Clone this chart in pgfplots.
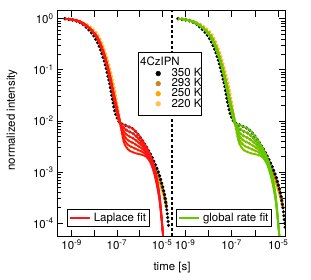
\documentclass[border=0pt]{standalone}
\usepackage{pgfplots}
\pgfplotsset{compat=1.18}
\usepackage{pgfplotstable}
\usepackage{fontspec}
\setmainfont{TeX Gyre Heros}
\newcommand\lblfont{\fontsize{11.5}{13}\selectfont}

\definecolor{c350}{RGB}{0,0,0}
\definecolor{c320}{RGB}{110,72,10}
\definecolor{c293}{RGB}{200,134,20}
\definecolor{c270}{RGB}{235,150,10}
\definecolor{c250}{RGB}{255,165,0}
\definecolor{c220}{RGB}{255,195,80}
\definecolor{fitred}{RGB}{255,20,20}
\definecolor{fitgreen}{RGB}{100,200,0}

% t [s], normalized intensity, fit
\pgfplotstableread{
t I fit
5.012e-10 1 1
7.943e-10 0.966 0.966
1.259e-9 0.933 0.933
1.995e-9 0.871 0.871
3.162e-9 0.776 0.776
5.012e-9 0.638 0.686
7.943e-9 0.515 0.5617
1.259e-8 0.3715 0.4290
1.995e-8 0.2296 0.2769
3.162e-8 0.1180 0.1486
5.012e-8 0.04753 0.06428
7.943e-8 0.01581 0.02332
1.259e-7 9.55e-3 9.55e-3
1.995e-7 8.511e-3 8.511e-3
3.162e-7 7.762e-3 7.762e-3
5.012e-7 7.079e-3 7.079e-3
7.943e-7 5.754e-3 5.754e-3
1.259e-6 4.365e-3 4.365e-3
1.995e-6 3.162e-3 3.162e-3
3.162e-6 2.188e-3 2.042e-3
5.012e-6 1.413e-3 1.072e-3
7.943e-6 8.318e-4 3.311e-4
1.259e-5 3.802e-4 3.0e-5
1.585e-5 1.995e-4 1e-5
1.778e-5 1.259e-4 1e-5
1.995e-5 7.943e-5 1e-5
}\dA
\pgfplotstableread{
t I fit
5.012e-10 1 1
7.943e-10 0.969 0.969
1.259e-9 0.938 0.938
1.995e-9 0.879 0.879
3.162e-9 0.787 0.787
5.012e-9 0.662 0.691
7.943e-9 0.538 0.5672
1.259e-8 0.3999 0.4360
1.995e-8 0.2527 0.2827
3.162e-8 0.1328 0.1524
5.012e-8 0.05548 0.06650
7.943e-8 0.01929 0.02436
1.259e-7 0.0100 0.0100
1.995e-7 7.311e-3 7.311e-3
3.162e-7 6.310e-3 6.310e-3
5.012e-7 5.728e-3 5.728e-3
7.943e-7 4.786e-3 4.786e-3
1.259e-6 3.802e-3 3.802e-3
1.995e-6 2.884e-3 2.884e-3
3.162e-6 2.051e-3 1.914e-3
5.012e-6 1.318e-3 1.000e-3
7.943e-6 7.834e-4 3.119e-4
1.259e-5 3.664e-4 3.0e-5
1.585e-5 2.014e-4 1e-5
}\dB
\pgfplotstableread{
t I fit
5.012e-10 1 1
7.943e-10 0.971 0.971
1.259e-9 0.942 0.942
1.995e-9 0.887 0.887
3.162e-9 0.798 0.798
5.012e-9 0.687 0.697
7.943e-9 0.563 0.5727
1.259e-8 0.4305 0.4431
1.995e-8 0.2781 0.2887
3.162e-8 0.1494 0.1564
5.012e-8 0.06477 0.06879
7.943e-8 0.02354 0.02544
1.259e-7 0.01047 0.01047
1.995e-7 6.281e-3 6.281e-3
3.162e-7 5.129e-3 5.129e-3
5.012e-7 4.634e-3 4.634e-3
7.943e-7 3.981e-3 3.981e-3
1.259e-6 3.311e-3 3.311e-3
1.995e-6 2.630e-3 2.630e-3
3.162e-6 1.923e-3 1.795e-3
5.012e-6 1.230e-3 9.333e-4
7.943e-6 7.379e-4 2.938e-4
1.259e-5 3.532e-4 3.0e-5
1.585e-5 2.032e-4 1e-5
}\dC
\pgfplotstableread{
t I fit
5.012e-10 1 1
7.943e-10 0.973 0.973
1.259e-9 0.946 0.946
1.995e-9 0.895 0.895
3.162e-9 0.809 0.809
5.012e-9 0.713 0.703
7.943e-9 0.588 0.5783
1.259e-8 0.4634 0.4503
1.995e-8 0.3060 0.2948
3.162e-8 0.1681 0.1605
5.012e-8 0.07561 0.07116
7.943e-8 0.02872 0.02657
1.259e-7 0.01096 0.01096
1.995e-7 5.395e-3 5.395e-3
3.162e-7 4.169e-3 4.169e-3
5.012e-7 3.750e-3 3.750e-3
7.943e-7 3.311e-3 3.311e-3
1.259e-6 2.884e-3 2.884e-3
1.995e-6 2.399e-3 2.399e-3
3.162e-6 1.803e-3 1.683e-3
5.012e-6 1.148e-3 8.710e-4
7.943e-6 6.950e-4 2.767e-4
1.259e-5 3.404e-4 3.0e-5
1.585e-5 2.051e-4 1e-5
}\dD
\pgfplotstableread{
t I fit
5.012e-10 1 1
7.943e-10 0.975 0.975
1.259e-9 0.951 0.951
1.995e-9 0.904 0.904
3.162e-9 0.820 0.820
5.012e-9 0.740 0.708
7.943e-9 0.615 0.5839
1.259e-8 0.4989 0.4576
1.995e-8 0.3368 0.3011
3.162e-8 0.1891 0.1647
5.012e-8 0.08826 0.07362
7.943e-8 0.03504 0.02775
1.259e-7 0.01148 0.01148
1.995e-7 4.634e-3 4.634e-3
3.162e-7 3.388e-3 3.388e-3
5.012e-7 3.034e-3 3.034e-3
7.943e-7 2.754e-3 2.754e-3
1.259e-6 2.512e-3 2.512e-3
1.995e-6 2.188e-3 2.188e-3
3.162e-6 1.690e-3 1.578e-3
5.012e-6 1.072e-3 8.128e-4
7.943e-6 6.546e-4 2.606e-4
1.259e-5 3.281e-4 3.0e-5
1.585e-5 2.070e-4 1e-5
}\dE
\pgfplotstableread{
t I fit
5.012e-10 1 1
7.943e-10 0.977 0.977
1.259e-9 0.955 0.955
1.995e-9 0.912 0.912
3.162e-9 0.832 0.832
5.012e-9 0.767 0.714
7.943e-9 0.643 0.5896
1.259e-8 0.5370 0.4650
1.995e-8 0.3707 0.3074
3.162e-8 0.2128 0.1690
5.012e-8 0.1030 0.07615
7.943e-8 0.04276 0.02899
1.259e-7 0.01202 0.01202
1.995e-7 3.981e-3 3.981e-3
3.162e-7 2.754e-3 2.754e-3
5.012e-7 2.455e-3 2.455e-3
7.943e-7 2.291e-3 2.291e-3
1.259e-6 2.188e-3 2.188e-3
1.995e-6 1.995e-3 1.995e-3
3.162e-6 1.585e-3 1.479e-3
5.012e-6 1.000e-3 7.586e-4
7.943e-6 6.166e-4 2.455e-4
1.259e-5 3.162e-4 3.0e-5
1.585e-5 2.089e-4 1e-5
}\dF

\tikzset{
  datadots/.style={line width=3.4bp, line cap=round, dash pattern=on 0bp off 3.9bp},
  fitline/.style={line width=1.7bp},
}

\begin{document}
\begin{tikzpicture}
% left panel: Laplace fit
\begin{axis}[at={(0bp,0bp)}, anchor=south west, scale only axis,
  width=115bp, height=225.5bp,
  xmode=log, ymode=log,
  xmin=2.239e-10, xmax=2.754e-5, ymin=5.62e-5, ymax=1.445,
  axis line style={draw=none},
  tick align=inside,
  major tick length=6.5bp, minor tick length=4bp,
  tick style={black, line width=0.7bp},
  xtick={1e-9,1e-8,1e-7,1e-6,1e-5},
  xticklabels={10\textsuperscript{-9},,10\textsuperscript{-7},,10\textsuperscript{-5}},
  xminorticks=false,
  ytick={1e-4,1e-3,1e-2,1e-1,1},
  yticklabels={10\textsuperscript{-4},10\textsuperscript{-3},10\textsuperscript{-2},10\textsuperscript{-1},10\textsuperscript{0}},
  ytick pos=left, xtick pos=both,
  tick label style={font=\lblfont},
  legend cell align=left,
  legend image code/.code={\draw[fitred, line width=1.7bp] (0bp,0bp) -- (20bp,0bp);},
  legend style={at={(0.0843,0.0443)}, anchor=south west, draw=black,
    inner sep=2bp, column sep=2bp, nodes={inner sep=1.2bp, font=\lblfont}}]
\addplot[no marks, smooth, datadots, c220, forget plot] table[x=t,y=I]{\dF};
\addplot[no marks, smooth, datadots, c250, forget plot] table[x=t,y=I]{\dE};
\addplot[no marks, smooth, datadots, c270, forget plot] table[x=t,y=I]{\dD};
\addplot[no marks, smooth, datadots, c293, forget plot] table[x=t,y=I]{\dC};
\addplot[no marks, smooth, datadots, c320, forget plot] table[x=t,y=I]{\dB};
\addplot[no marks, smooth, datadots, c350, forget plot] table[x=t,y=I]{\dA};
\addplot[no marks, smooth, fitline, fitred, forget plot] table[x=t,y=fit]{\dF};
\addplot[no marks, smooth, fitline, fitred, forget plot] table[x=t,y=fit]{\dE};
\addplot[no marks, smooth, fitline, fitred, forget plot] table[x=t,y=fit]{\dD};
\addplot[no marks, smooth, fitline, fitred, forget plot] table[x=t,y=fit]{\dC};
\addplot[no marks, smooth, fitline, fitred, forget plot] table[x=t,y=fit]{\dB};
\addplot[no marks, smooth, fitline, fitred] table[x=t,y=fit]{\dA};
\addlegendentry{Laplace fit}
\end{axis}
% right panel: global rate fit
\begin{axis}[at={(115bp,0bp)}, anchor=south west, scale only axis,
  width=113bp, height=225.5bp,
  xmode=log, ymode=log,
  xmin=2.754e-10, xmax=1.950e-5, ymin=5.62e-5, ymax=1.445,
  axis line style={draw=none},
  tick align=inside,
  major tick length=6.5bp, minor tick length=4bp,
  tick style={black, line width=0.7bp},
  xtick={1e-9,1e-8,1e-7,1e-6,1e-5},
  xticklabels={10\textsuperscript{-9},,10\textsuperscript{-7},,10\textsuperscript{-5}},
  xminorticks=false,
  ytick={1e-4,1e-3,1e-2,1e-1,1},
  yticklabels={},
  ytick pos=right, xtick pos=both,
  tick label style={font=\lblfont},
  legend cell align=left,
  legend image code/.code={\draw[fitgreen, line width=1.7bp] (0bp,0bp) -- (20bp,0bp);},
  legend style={at={(0.035,0.0443)}, anchor=south west, draw=black,
    inner sep=2bp, column sep=2bp, nodes={inner sep=1.2bp, font=\lblfont}}]
\addplot[no marks, smooth, datadots, c220, forget plot] table[x=t,y=I]{\dF};
\addplot[no marks, smooth, datadots, c250, forget plot] table[x=t,y=I]{\dE};
\addplot[no marks, smooth, datadots, c270, forget plot] table[x=t,y=I]{\dD};
\addplot[no marks, smooth, datadots, c293, forget plot] table[x=t,y=I]{\dC};
\addplot[no marks, smooth, datadots, c320, forget plot] table[x=t,y=I]{\dB};
\addplot[no marks, smooth, datadots, c350, forget plot] table[x=t,y=I]{\dA};
\addplot[no marks, smooth, fitline, fitgreen, forget plot] table[x=t,y=fit]{\dF};
\addplot[no marks, smooth, fitline, fitgreen, forget plot] table[x=t,y=fit]{\dE};
\addplot[no marks, smooth, fitline, fitgreen, forget plot] table[x=t,y=fit]{\dD};
\addplot[no marks, smooth, fitline, fitgreen, forget plot] table[x=t,y=fit]{\dC};
\addplot[no marks, smooth, fitline, fitgreen, forget plot] table[x=t,y=fit]{\dB};
\addplot[no marks, smooth, fitline, fitgreen] table[x=t,y=fit]{\dA};
\addlegendentry{global rate fit}
\end{axis}
% frame and separator
\draw[line width=0.7bp] (0bp,0bp) rectangle (228bp,225.5bp);
\draw[line width=1.3bp, dash pattern=on 3bp off 2.2bp] (115bp,0bp) -- (115bp,225.5bp);
% labels
\node[font=\lblfont] at (115bp,-32bp) {time [s]};
\node[font=\lblfont, rotate=90] at (-45bp,116bp) {normalized intensity};
% sample legend
\draw[fill=white, line width=0.7bp] (81.5bp,120.5bp) rectangle (144.5bp,183.5bp);
\node[anchor=west, font=\lblfont, inner sep=0pt] at (83bp,174.3bp) {4CzIPN};
\begin{axis}[at={(0bp,0bp)}, anchor=south west, scale only axis,
  width=228bp, height=225.5bp, xmin=0, xmax=228, ymin=0, ymax=225.5, hide axis,
  legend cell align=left,
  legend style={at={(0.4325,0.7406)}, anchor=north west, draw=none, fill=none,
    inner sep=0pt, outer sep=0pt, row sep=1bp,
    nodes={inner sep=0.8bp, text height=7bp, text depth=0.5bp, font=\lblfont}}]
\addlegendimage{legend image code/.code={\path[draw=none,fill=none] (0bp,0bp) rectangle (14.9bp,0bp); \fill[c350] (2.4bp,0bp) circle (2.4bp);}}
\addlegendentry{350 K}
\addlegendimage{legend image code/.code={\path[draw=none,fill=none] (0bp,0bp) rectangle (14.9bp,0bp); \fill[c293] (2.4bp,0bp) circle (2.4bp);}}
\addlegendentry{293 K}
\addlegendimage{legend image code/.code={\path[draw=none,fill=none] (0bp,0bp) rectangle (14.9bp,0bp); \fill[c250] (2.4bp,0bp) circle (2.4bp);}}
\addlegendentry{250 K}
\addlegendimage{legend image code/.code={\path[draw=none,fill=none] (0bp,0bp) rectangle (14.9bp,0bp); \fill[c220] (2.4bp,0bp) circle (2.4bp);}}
\addlegendentry{220 K}
\end{axis}
\pgfresetboundingbox
\useasboundingbox (-57bp,-44bp) rectangle (254bp,236bp);
\end{tikzpicture}
\end{document}
